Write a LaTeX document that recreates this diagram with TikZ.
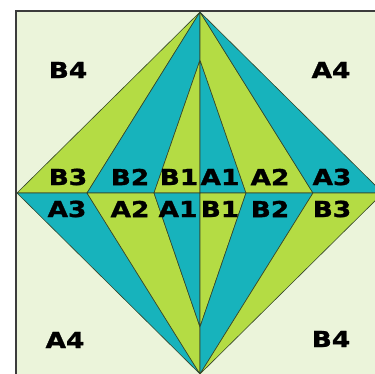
\documentclass[tikz,border=0pt]{standalone}
\usepackage{fontspec}
\usepackage{xcolor}
\usetikzlibrary{positioning,calc}
\newfontfamily\lblfont[FakeStretch=1.2,FakeBold=1.4]{DejaVu Sans Bold}
\definecolor{lime}{HTML}{B4DC44}
\definecolor{tealc}{HTML}{17B3BC}
\definecolor{paleground}{HTML}{EBF4DA}
\definecolor{seam}{HTML}{34452A}
\definecolor{frameink}{HTML}{3C3C3C}
\tikzset{
  limepiece/.style={fill=lime,draw=seam,line width=0.6pt,line join=round},
  tealpiece/.style={fill=tealc,draw=seam,line width=0.6pt,line join=round},
  blocklbl/.style={font=\lblfont\fontsize{22}{24}\selectfont,inner sep=0pt,
                   text=black,anchor=center},
  frame/.style={draw=frameink,fill=paleground,line width=1.8pt}
}
\begin{document}
\begin{tikzpicture}[x=1pt,y=1pt]
    \clip (0,0) rectangle (375,373);
    \fill[white] (0,0) rectangle (375,373);
    \draw[frame] (16,362) rectangle (384,-10);
    % diamond corners and seam points
    \coordinate (top) at (200,361);
    \coordinate (bot) at (200,-1);
    \coordinate (lft) at (17,180);
    \coordinate (rgt) at (383,180);
    \coordinate (ctr) at (200,180);
    \coordinate (itop) at (200,313);
    \coordinate (ibot) at (200,46);
    \coordinate (p1) at (87,180);
    \coordinate (p2) at (154,180);
    \coordinate (p3) at (246,180);
    \coordinate (p4) at (313,180);
    % upper half
    \filldraw[limepiece] (top) -- (lft) -- (p1) -- cycle;
    \filldraw[tealpiece] (top) -- (p1) -- (p2) -- (itop) -- cycle;
    \filldraw[limepiece] (itop) -- (p2) -- (ctr) -- cycle;
    \filldraw[tealpiece] (itop) -- (ctr) -- (p3) -- cycle;
    \filldraw[limepiece] (top) -- (itop) -- (p3) -- (p4) -- cycle;
    \filldraw[tealpiece] (top) -- (p4) -- (rgt) -- cycle;
    % lower half
    \filldraw[tealpiece] (bot) -- (lft) -- (p1) -- cycle;
    \filldraw[limepiece] (bot) -- (p1) -- (p2) -- (ibot) -- cycle;
    \filldraw[tealpiece] (ibot) -- (p2) -- (ctr) -- cycle;
    \filldraw[limepiece] (ibot) -- (ctr) -- (p3) -- cycle;
    \filldraw[tealpiece] (bot) -- (ibot) -- (p3) -- (p4) -- cycle;
    \filldraw[limepiece] (bot) -- (p4) -- (rgt) -- cycle;
    % labels
    \node[blocklbl] (b4tl) at (68,303) {B4};
    \node[blocklbl] (a4tr) at (331,303) {A4};
    \node[blocklbl] (a4bl) at (65,33) {A4};
    \node[blocklbl] (b4br) at (331,34) {B4};
    \node[blocklbl] (b3u) at (68,196) {B3};
    \node[blocklbl] (b2u) at (130,196) {B2};
    \node[blocklbl] (b1u) at (179,196) {B1};
    \node[blocklbl] (a1u) at (220,196) {A1};
    \node[blocklbl] (a2u) at (270,196) {A2};
    \node[blocklbl] (a3u) at (332,196) {A3};
    \node[blocklbl] (a3d) at (67,164) {A3};
    \node[blocklbl] (a2d) at (130,164) {A2};
    \node[blocklbl] (a1d) at (178,164) {A1};
    \node[blocklbl] (b1d) at (220,164) {B1};
    \node[blocklbl] (b2d) at (270,164) {B2};
    \node[blocklbl] (b3d) at (332,164) {B3};
\end{tikzpicture}
\end{document}
